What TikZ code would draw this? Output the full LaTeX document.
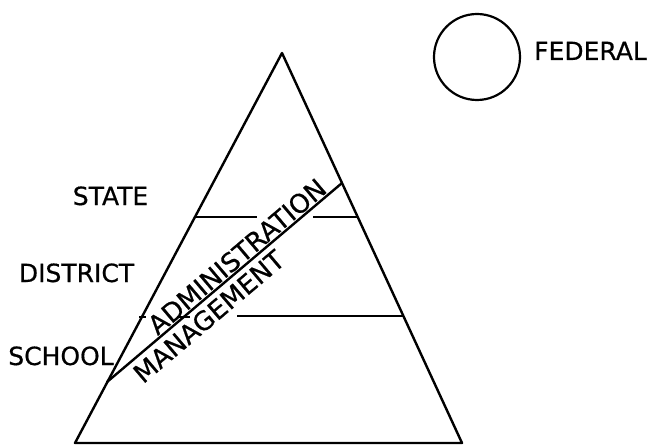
\documentclass[tikz,border=0pt]{standalone}
\usepackage{fontspec}
\setmainfont[FakeBold=0.6]{DejaVu Sans}
\begin{document}
\begin{tikzpicture}[x=1pt,y=-1pt,
  edge/.style={line width=2.4pt, line cap=round, line join=round},
  level/.style={line width=1.9pt},
  lbl/.style={font=\fontsize{25}{25}\selectfont, inner sep=0pt, anchor=base},
  slant/.style={font=\fontsize{26}{26}\selectfont, rotate=40.3}]
\useasboundingbox (0,0) rectangle (652,446);
% triangle corners
\coordinate (apex) at (282,53);
\coordinate (bl) at (75,443);
\coordinate (br) at (462,443);
\draw[edge] (apex) -- (bl) -- (br) -- cycle;
% diagonal
\coordinate (d1) at (107,382);
\coordinate (d2) at (342,183);
\draw[edge] (d1) -- (d2);
% state level
\coordinate (s1) at (195,217);
\coordinate (s2) at (257,217);
\coordinate (s3) at (313,217);
\coordinate (s4) at (358,217);
\draw[level] (s1) -- (s2);
\draw[level] (s3) -- (s4);
% school level
\coordinate (c1) at (237,316);
\coordinate (c2) at (403,316);
\draw[level] (c1) -- (c2);
\coordinate (t1) at (139,317);
\coordinate (t2) at (146,317);
\draw[level] (t1) -- (t2);
\coordinate (t3) at (177,317);
\coordinate (t4) at (190,317);
\draw[level] (t3) -- (t4);
% labels
\node[lbl] (state) at (110.5,205) {STATE};
\node[lbl] (district) at (76.5,282) {DISTRICT};
\node[lbl] (school) at (61,365) {SCHOOL};
\node[slant, anchor=south, inner sep=2.5pt] (admin) at (245,266) {ADMINISTRATION};
\node[slant, anchor=north, inner sep=5pt] (mgmt) at (199,305) {MANAGEMENT};
% federal
\node[draw, circle, line width=2.2pt, minimum size=86pt, inner sep=0pt] (fed) at (477,57) {};
\node[lbl] (fedlbl) at (590.5,60) {FEDERAL};
\end{tikzpicture}
\end{document}
